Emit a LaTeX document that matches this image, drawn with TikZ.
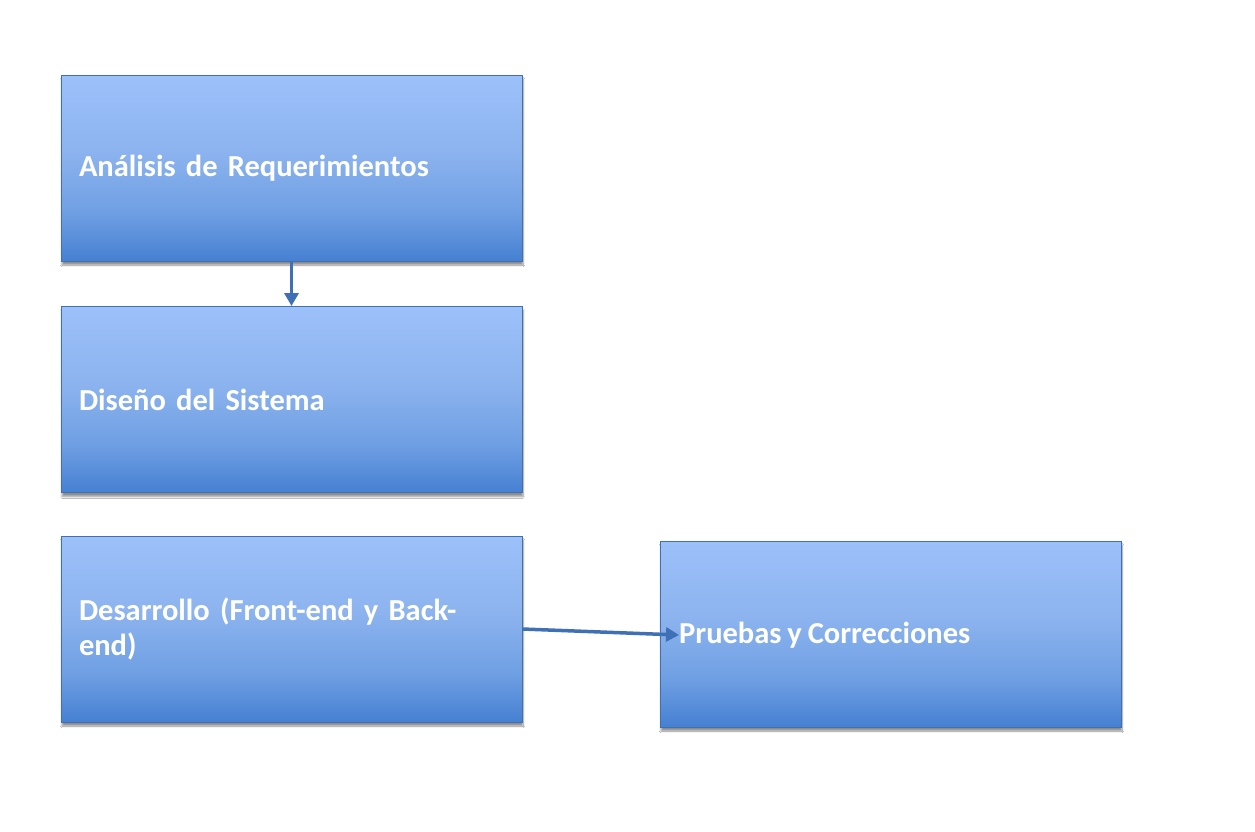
\documentclass[tikz,border=0pt]{standalone}
\usepackage{fontspec}
\setmainfont[WordSpace=0.85]{Carlito}
\usetikzlibrary{arrows.meta,shadows.blur}
\definecolor{boxtop}{HTML}{9CC0FA}
\definecolor{boxmid}{HTML}{8DB4EF}
\definecolor{boxlow}{HTML}{6F9FE3}
\definecolor{boxbot}{HTML}{4680D2}
\definecolor{boxedge}{HTML}{4170B0}
\definecolor{linkcol}{HTML}{3F70B6}
% light upper part, darkening towards the lower edge
\pgfdeclareverticalshading{stagefill}{100bp}{
  color(0bp)=(boxbot); color(25bp)=(boxbot); color(38bp)=(boxlow);
  color(55bp)=(boxmid); color(75bp)=(boxtop); color(100bp)=(boxtop)}
\begin{document}
\begin{tikzpicture}[x=1pt,y=-1pt,
  stagebox/.style={rectangle, draw=boxedge, line width=1pt,
    shading=stagefill,
    minimum width=461pt, minimum height=186pt,
    text width=425pt, inner xsep=18pt, align=left,
    text=white, font=\fontsize{30.5}{35}\selectfont\bfseries,
    blur shadow={shadow xshift=1pt, shadow yshift=-4pt, shadow blur steps=8, shadow opacity=45}},
  stagelabel/.style={text=white, font=\fontsize{30.5}{35}\selectfont\bfseries, inner sep=0pt},
  link/.style={draw=linkcol, line width=3.5pt, -{Triangle[length=13pt,width=14pt]}}]
  \useasboundingbox[fill=white] (0,0) rectangle (1255,831);

  \node[stagebox] (req) at (291.5,168) {Análisis de Requerimientos};
  \node[stagebox] (dis) at (291.5,399.5) {Diseño del Sistema};
  \node[stagebox] (dev) at (291.5,629) {Desarrollo (Front-end y Back-\\end)};
  \node[stagebox] (test) at (890.5,634) {};
  \node[stagelabel, anchor=west] (testlbl) at (679,635) {Pruebas y Correcciones};

  \draw[link] (req) -- (dis);
  \draw[link] (dev.east) -- (testlbl.west);
\end{tikzpicture}
\end{document}
